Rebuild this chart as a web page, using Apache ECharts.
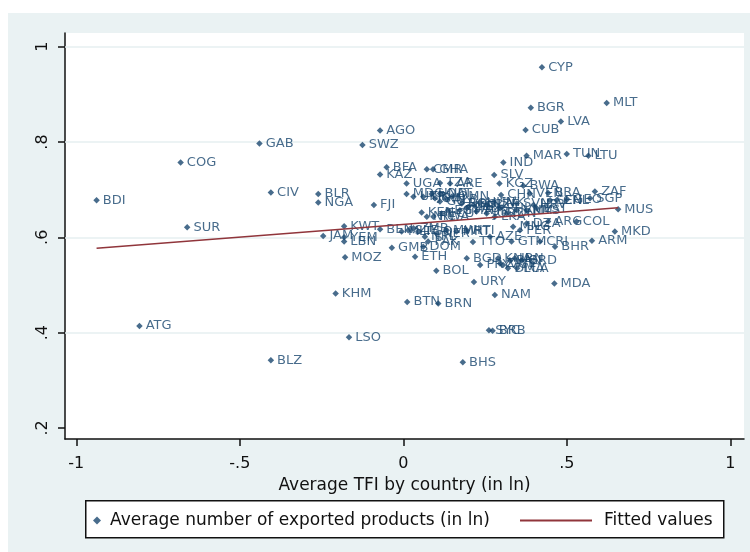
<!DOCTYPE html>
<html><head><meta charset="utf-8">
<script src="https://cdn.jsdelivr.net/npm/echarts@6/dist/echarts.min.js"></script>
<style>
html,body{margin:0;padding:0;background:#fff;}
#bg{position:absolute;left:8px;top:13px;width:742px;height:539px;background:#eaf2f3;}
#chart{position:absolute;left:0;top:0;width:750px;height:552px;}
</style></head><body>
<div id="bg"></div><div id="chart"></div>
<script>
const countries = ["BDI","COG","GAB","SWZ","AGO","CIV","BLR","NGA","SUR","FJI","ATG","BLZ","LSO","KHM","MOZ","JAM","KWT","YEM","LBN","BEN","GMB","ETH","BOL","URY","NAM","MDA","BTN","BRN","SYC","BRB","BHS","CYP","BGR","MLT","LVA","CUB","MAR","TUN","LTU","IND","SLV","KGZ","BWA","CHN","BRA","ZAF","SGP","GEO","MUS","MKD","ARM","COL","ARG","BHR","CRI","GTM","PER","TTO","BGD","PRY","IRN","PAN","KNA","DMA","LCA","VCT","GRD","BFA","KAZ","CMR","GHA","UGA","ARE","TZA","MDG","KEN","DOM","NIC","SLE","MLI","TGO","NPL","PAK","MWI","EGY","UKR","TJK","HND","GIN","GUY","ALB","OMN","RWA","ECU","THA","MEX","TUR","JOR","LKA","PHL","IDN","VNM","MYS","HRV","ROU","POL","HUN","CZE","SVK","SVN","EST","SEN","CHL","VEN","ZMB","NER","MRT","HTI","AZE","MNG","DZA","ZWE","QAT","SAU"];
const tfi = [-0.938,-0.681,-0.440,-0.125,-0.071,-0.405,-0.260,-0.260,-0.661,-0.090,-0.807,-0.405,-0.166,-0.207,-0.178,-0.245,-0.181,-0.181,-0.181,-0.071,-0.035,0.036,0.101,0.216,0.280,0.462,0.012,0.107,0.262,0.273,0.182,0.424,0.390,0.622,0.482,0.374,0.377,0.500,0.566,0.306,0.278,0.294,0.367,0.299,0.443,0.586,0.571,0.501,0.657,0.647,0.577,0.530,0.443,0.464,0.418,0.331,0.357,0.213,0.194,0.235,0.341,0.326,0.290,0.320,0.348,0.305,0.362,-0.051,-0.071,0.072,0.091,0.010,0.143,0.112,0.010,0.056,0.061,0.072,0.015,-0.005,0.046,0.066,0.076,0.133,0.137,0.031,0.061,0.087,0.097,0.112,0.133,0.148,0.092,0.117,0.173,0.199,0.224,0.255,0.280,0.296,0.316,0.347,0.377,0.398,0.179,0.214,0.235,0.255,0.275,0.347,0.408,0.449,0.469,0.387,0.031,0.102,0.163,0.194,0.265,0.336,0.377,0.296,0.112,0.194];
const products = [0.678,0.757,0.797,0.794,0.824,0.694,0.691,0.673,0.621,0.668,0.414,0.342,0.390,0.482,0.558,0.603,0.623,0.600,0.591,0.617,0.578,0.559,0.530,0.506,0.479,0.503,0.464,0.461,0.405,0.404,0.338,0.957,0.872,0.882,0.843,0.825,0.771,0.775,0.771,0.757,0.731,0.713,0.708,0.689,0.693,0.696,0.682,0.680,0.659,0.612,0.593,0.633,0.633,0.580,0.591,0.591,0.615,0.590,0.556,0.542,0.556,0.552,0.556,0.535,0.535,0.542,0.552,0.747,0.732,0.743,0.743,0.713,0.713,0.714,0.691,0.652,0.580,0.643,0.615,0.612,0.612,0.601,0.591,0.615,0.657,0.685,0.685,0.691,0.682,0.675,0.680,0.685,0.643,0.650,0.657,0.664,0.654,0.650,0.643,0.661,0.650,0.657,0.657,0.668,0.671,0.668,0.673,0.668,0.673,0.671,0.661,0.678,0.678,0.692,0.619,0.608,0.612,0.615,0.601,0.622,0.629,0.545,0.692,0.661];
const fitX = [-0.938, 0.657];
const fitY = [0.577, 0.662];
const xTicks = [-1, -0.5, 0, 0.5, 1];
const yTicks = [0.2, 0.4, 0.6, 0.8, 1];
const yGrid = [0.4, 0.6, 0.8, 1];
const scatterName = "Average number of exported products (in ln)";
const fitName = "Fitted values";

const fmt = v => String(v).replace(/^(-?)0\./, '$1.');
const FONT = "'DejaVu Sans', 'Liberation Sans', Arial, sans-serif";

const chart = echarts.init(document.getElementById('chart'), null, {renderer: 'canvas'});
const pts = countries.map((c, i) => ({name: c, value: [tfi[i], products[i]]}));
const fit = fitX.map((x, i) => [x, fitY[i]]);

chart.setOption({
  animation: false,
  backgroundColor: 'transparent',
  textStyle: {fontFamily: FONT},
  grid: {left: 65, right: 6, top: 33, bottom: 113, show: true, backgroundColor: '#ffffff', borderWidth: 0},
  graphic: [{
    type: 'rect', left: 85, top: 500, z: 1,
    shape: {width: 638, height: 37},
    style: {fill: '#ffffff', stroke: '#111', lineWidth: 1.5}
  }],
  legend: [{
    left: 88, top: 507, itemWidth: 8, itemHeight: 8, z: 5,
    data: [{name: scatterName, icon: 'diamond'}],
    textStyle: {fontSize: 17, color: '#111', fontFamily: FONT, padding: [0, 0, 0, 4]}
  }, {
    left: 515, top: 507, itemWidth: 72, itemHeight: 2, z: 5,
    data: [{name: fitName, icon: 'rect'}],
    itemStyle: {color: '#90353b'},
    textStyle: {fontSize: 17, color: '#111', fontFamily: FONT, padding: [0, 0, 0, 7]}
  }],
  xAxis: {
    type: 'value', min: -1.0346, max: 1.042,
    axisLine: {show: true, onZero: false, lineStyle: {color: '#111', width: 1.5}},
    axisTick: {show: true, length: 7, customValues: xTicks, lineStyle: {color: '#111', width: 1.5}},
    axisLabel: {customValues: xTicks, formatter: fmt, fontSize: 16, color: '#111', margin: 17, fontFamily: FONT},
    splitLine: {show: false},
    name: 'Average TFI by country (in ln)', nameLocation: 'middle', nameGap: 29,
    nameTextStyle: {fontSize: 17, color: '#111', fontFamily: FONT}
  },
  yAxis: {
    type: 'value', min: 0.1767, max: 1.0288,
    axisLine: {show: true, onZero: false, lineStyle: {color: '#111', width: 1.5}},
    axisTick: {show: true, length: 7, customValues: yTicks, lineStyle: {color: '#111', width: 1.5}},
    axisLabel: {customValues: yTicks, formatter: fmt, fontSize: 16, color: '#111', margin: 14, rotate: 90, fontFamily: FONT},
    splitLine: {show: false}
  },
  series: [{
    type: 'line', data: [], z: 1, silent: true,
    markLine: {
      z: 1, silent: true, symbol: 'none', label: {show: false},
      lineStyle: {color: '#e6eff1', width: 1.5, type: 'solid'},
      data: yGrid.map(v => ({yAxis: v}))
    }
  }, {
    name: scatterName, type: 'scatter', z: 3,
    symbol: 'diamond', symbolSize: 6.5,
    itemStyle: {color: '#1a476f'},
    label: {show: true, position: 'right', distance: 3, formatter: '{b}', fontSize: 13, color: '#1a476f', fontFamily: FONT},
    data: pts
  }, {
    name: fitName, type: 'line', z: 4, symbol: 'none', showSymbol: false,
    lineStyle: {color: '#90353b', width: 1.5},
    itemStyle: {color: '#90353b'},
    data: fit
  }]
});
</script>
</body></html>
